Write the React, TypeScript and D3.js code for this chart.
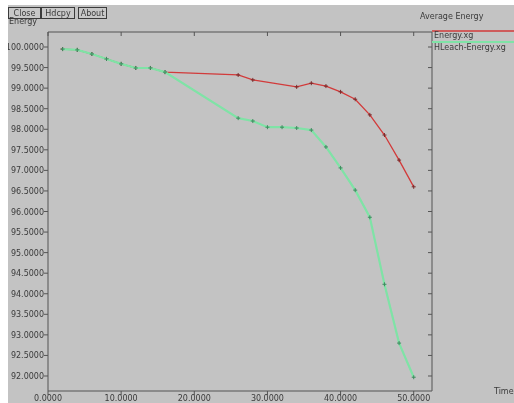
import React from 'react';
import { scaleLinear, line, range } from 'd3';

// values (time vs average energy)
const energyTime = [2, 4, 6, 8, 10, 12, 14, 16, 26, 28, 34, 36, 38, 40, 42, 44, 46, 48, 50];
const energyValues = [99.95, 99.93, 99.83, 99.71, 99.59, 99.49, 99.49, 99.39, 99.32, 99.2, 99.03, 99.12, 99.05, 98.91, 98.73, 98.35, 97.86, 97.25, 96.6];

const hleachTime = [2, 4, 6, 8, 10, 12, 14, 16, 26, 28, 30, 32, 34, 36, 38, 40, 42, 44, 46, 48, 50];
const hleachValues = [99.95, 99.93, 99.83, 99.71, 99.59, 99.49, 99.49, 99.39, 98.27, 98.2, 98.05, 98.05, 98.03, 97.98, 97.57, 97.06, 96.52, 95.86, 94.23, 92.8, 91.97];

const xTicks = [0, 10, 20, 30, 40, 50];
const yTicks = range(92, 100.01, 0.5);
const buttons = ['Close', 'Hdcpy', 'About'];
const legendNames = ['Energy.xg', 'HLeach-Energy.xg'];

const width = 514;
const height = 403;
const margin = { top: 32, right: 82, bottom: 12, left: 48 };

const textColor = '#3a3a3a';
const axisColor = '#555';
const redColor = '#d23a3a';
const greenColor = '#7fe3a6';

function App() {
  const x = scaleLinear().domain([0, 52.5]).range([margin.left, width - margin.right]);
  const y = scaleLinear().domain([91.635, 100.365]).range([height - margin.bottom, margin.top]);

  const path = line<[number, number]>()
    .x(d => x(d[0]))
    .y(d => y(d[1]));

  const red: [number, number][] = energyTime.map((t, i) => [t, energyValues[i]]);
  const green: [number, number][] = hleachTime.map((t, i) => [t, hleachValues[i]]);

  const [x0, x1] = x.range();
  const [yb, yt] = y.range();

  const marker = (d: [number, number], i: number, color: string) => (
    <g key={i} transform={`translate(${x(d[0])},${y(d[1])})`} stroke={color} strokeWidth={1}>
      <line x1={-2} x2={2} y1={0} y2={0} />
      <line x1={0} x2={0} y1={-2} y2={2} />
    </g>
  );

  return (
    <svg width={width} height={height} style={{ position: 'absolute', left: 0, top: 0 }}
      fontFamily="DejaVu Sans" fontSize={8}>
      <defs>
        <clipPath id="panel">
          <rect x={8} y={5} width={width - 8} height={height - 5} />
        </clipPath>
        <filter id="soft">
          <feGaussianBlur stdDeviation={0.5} />
        </filter>
      </defs>
      <rect width={width} height={height} fill="#fff" />
      <g clipPath="url(#panel)">
        <rect x={8} y={5} width={width - 8} height={height - 5} fill="#c3c3c3" />
        <g filter="url(#soft)">
          {/* buttons */}
          {buttons.map((b, i) => {
            const bx = [8, 41, 78][i];
            const bw = [32, 33, 28][i];
            return (
              <g key={b}>
                <rect x={bx + 0.5} y={7.5} width={bw} height={11} fill="#c8c8c8" stroke={textColor} strokeWidth={1} />
                <text x={bx + bw / 2 + 0.5} y={16} textAnchor="middle" fill={textColor}>{b}</text>
              </g>
            );
          })}
          <text x={9} y={24} fill={textColor}>Energy</text>
          <text x={420} y={19} fill={textColor}>Average Energy</text>
          <text x={494} y={394} fill={textColor}>Time</text>

          {/* frame */}
          <line x1={x0} x2={x1} y1={yt} y2={yt} stroke={axisColor} />
          <line x1={x0} x2={x1} y1={yb} y2={yb} stroke={axisColor} />
          <line x1={x0} x2={x0} y1={yt} y2={yb} stroke={axisColor} />
          <line x1={x1} x2={x1} y1={yt} y2={yb} stroke={axisColor} />

          {yTicks.map(t => (
            <g key={t}>
              <line x1={x0 - 4} x2={x0} y1={y(t)} y2={y(t)} stroke={axisColor} />
              <line x1={x1 - 4} x2={x1} y1={y(t)} y2={y(t)} stroke={axisColor} />
              <text x={x0 - 4} y={y(t) + 3} textAnchor="end" fill={textColor}>{t.toFixed(4)}</text>
            </g>
          ))}
          {xTicks.map(t => (
            <g key={t}>
              <line x1={x(t)} x2={x(t)} y1={yb} y2={yb + 4} stroke={axisColor} />
              <line x1={x(t)} x2={x(t)} y1={yt} y2={yt + 4} stroke={axisColor} />
              <text x={x(t)} y={yb + 10} textAnchor="middle" fill={textColor}>{t.toFixed(4)}</text>
            </g>
          ))}

          {/* series */}
          <path d={path(red) ?? ''} fill="none" stroke={redColor} strokeWidth={1.3} />
          {red.map((d, i) => marker(d, i, '#7a2a2a'))}
          <path d={path(green) ?? ''} fill="none" stroke={greenColor} strokeWidth={2.2} />
          {green.map((d, i) => marker(d, i, '#3f8a5f'))}

          {/* legend */}
          <line x1={x1} x2={width} y1={31} y2={31} stroke={redColor} strokeWidth={1.3} />
          <text x={x1 + 2} y={38} fill={textColor}>{legendNames[0]}</text>
          <line x1={x1} x2={width} y1={42} y2={42} stroke={greenColor} strokeWidth={2.2} />
          <text x={x1 + 2} y={50} fill={textColor}>{legendNames[1]}</text>
        </g>
      </g>
    </svg>
  );
}

export default App;
